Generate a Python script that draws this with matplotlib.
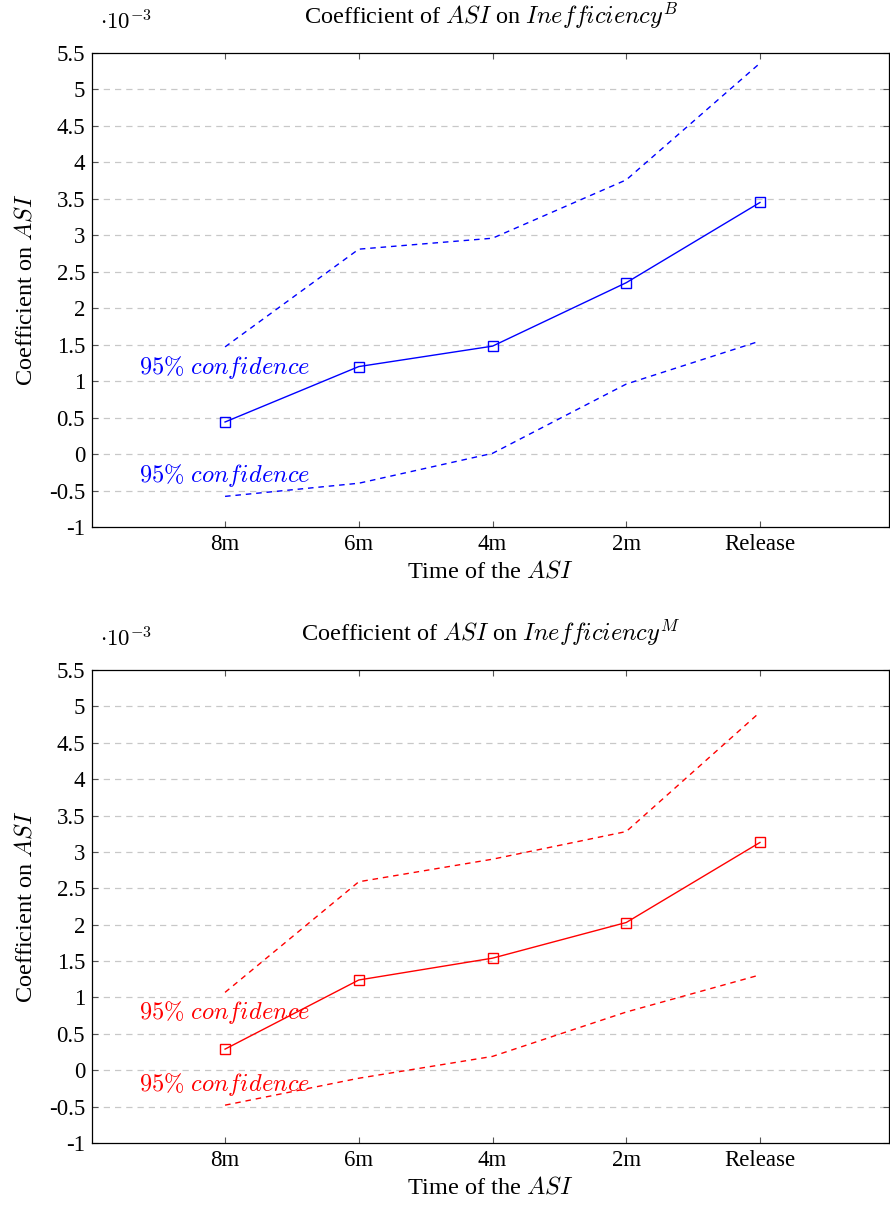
import matplotlib
matplotlib.use("Agg")
import matplotlib.pyplot as plt
from matplotlib.ticker import FixedLocator, FixedFormatter

plt.rcParams['font.family'] = ['Liberation Serif', 'DejaVu Serif']
plt.rcParams['mathtext.fontset'] = 'cm'

categories = ["8m", "6m", "4m", "2m", "Release"]
positions = [1, 2, 3, 4, 5]

coef_B = [0.44, 1.20, 1.48, 2.35, 3.45]
upper_B = [1.47, 2.81, 2.96, 3.76, 5.36]
lower_B = [-0.58, -0.40, 0.01, 0.96, 1.55]

coef_M = [0.29, 1.24, 1.54, 2.03, 3.13]
upper_M = [1.07, 2.59, 2.90, 3.28, 4.92]
lower_M = [-0.48, -0.11, 0.19, 0.80, 1.31]

yticks = [-1, -0.5, 0, 0.5, 1, 1.5, 2, 2.5, 3, 3.5, 4, 4.5, 5, 5.5]
ytick_labels = ["-1", "-0.5", "0", "0.5", "1", "1.5", "2", "2.5", "3", "3.5", "4", "4.5", "5", "5.5"]

W, H = 890, 1208
fig = plt.figure(figsize=(W / 100, H / 100), dpi=100)

def px_axes(l, t, r, b):
    return fig.add_axes([l / W, 1 - b / H, (r - l) / W, (b - t) / H])

panels = [
    (px_axes(92, 53, 889, 527), coef_B, upper_B, lower_B, "#0000ff", "B",
     (1.19, -0.30)),
    (px_axes(92, 670, 889, 1143), coef_M, upper_M, lower_M, "#ff0000", "M",
     (0.80, -0.19)),
]

fs_tick = 16.5
fs_lab = 17.5
for ax, coef, up, lo, col, sup, (ty1, ty2) in panels:
    ax.set_xlim(0.005, 5.965)
    ax.set_ylim(-1, 5.5)
    for yv in yticks[1:-1]:
        ax.axhline(yv, color="#c8c8c8", lw=0.9, ls=(0, (5, 4)), zorder=0)
    ax.plot(positions, up, color=col, lw=1.0, ls=(0, (4, 3.5)))
    ax.plot(positions, lo, color=col, lw=1.0, ls=(0, (4, 3.5)))
    ax.plot(positions, coef, color=col, lw=1.0, marker="s", markersize=7,
            markerfacecolor="none", markeredgecolor=col, markeredgewidth=1.0)
    ax.text(0.36, ty1, r"$95\%\ confidence$", color=col, fontsize=17.6,
            va="center", ha="left")
    ax.text(0.36, ty2, r"$95\%\ confidence$", color=col, fontsize=17.6,
            va="center", ha="left")
    ax.xaxis.set_major_locator(FixedLocator(positions))
    ax.xaxis.set_major_formatter(FixedFormatter(categories))
    ax.yaxis.set_major_locator(FixedLocator(yticks))
    ax.yaxis.set_major_formatter(FixedFormatter(ytick_labels))
    ax.tick_params(direction="in", top=True, right=True, length=4,
                   width=0.8, color="#555555", labelsize=fs_tick, pad=5)
    for s in ax.spines.values():
        s.set_linewidth(0.9)
    ax.set_xlabel(r"Time of the $ASI$", fontsize=fs_lab, labelpad=4)
    ax.set_ylabel(r"Coefficient on $ASI$", fontsize=fs_lab, labelpad=9)
    ax.set_title(r"Coefficient of $ASI$ on $Inefficiency^{%s}$" % sup,
                 fontsize=fs_lab, pad=21)
    ax.text(0.01, 1.04, r"$\cdot 10^{-3}$", transform=ax.transAxes,
            fontsize=fs_tick, ha="left", va="bottom")

fig.savefig("out.png", dpi=100)
